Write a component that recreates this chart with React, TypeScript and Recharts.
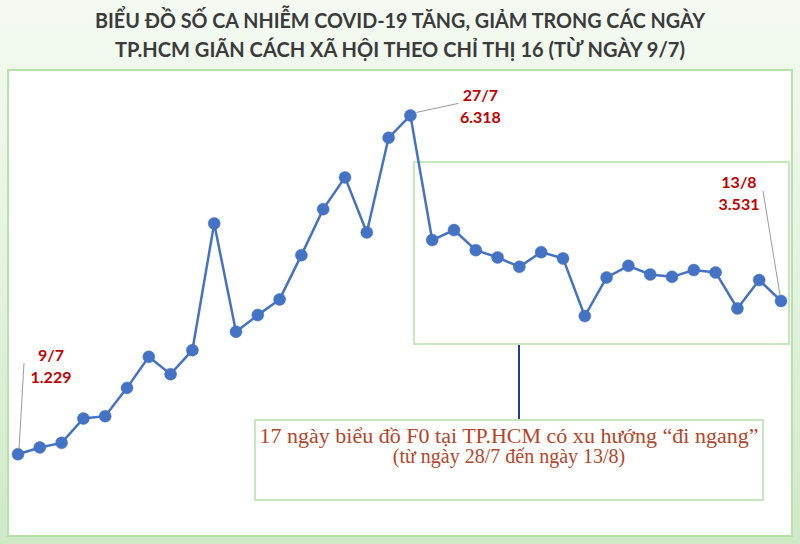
import React from 'react';
import { LineChart, Line, XAxis, YAxis, LabelList, Customized } from 'recharts';

// Ngày (từ 9/7 đến 13/8)
const dates: string[] = [
  '9/7', '10/7', '11/7', '12/7', '13/7', '14/7', '15/7', '16/7', '17/7', '18/7',
  '19/7', '20/7', '21/7', '22/7', '23/7', '24/7', '25/7', '26/7', '27/7', '28/7',
  '29/7', '30/7', '31/7', '1/8', '2/8', '3/8', '4/8', '5/8', '6/8', '7/8',
  '8/8', '9/8', '10/8', '11/8', '12/8', '13/8',
];

// Số ca nhiễm mới mỗi ngày tại TP.HCM
const cases: number[] = [
  1229, 1330, 1399, 1765, 1800, 2225, 2691, 2431, 2792, 4695,
  3067, 3318, 3554, 4219, 4910, 5387, 4560, 5982, 6318, 4445,
  4595, 4294, 4185, 4043, 4264, 4170, 3303, 3884, 4058, 3929,
  3893, 3994, 3959, 3418, 3844, 3531,
];

const titleLines: string[] = [
  'BIỂU ĐỒ SỐ CA NHIỄM COVID-19 TĂNG, GIẢM TRONG CÁC NGÀY',
  'TP.HCM GIÃN CÁCH XÃ HỘI THEO CHỈ THỊ 16 (TỪ NGÀY 9/7)',
];

const noteLines: string[] = [
  '17 ngày biểu đồ F0 tại TP.HCM có xu hướng “đi ngang”',
  '(từ ngày 28/7 đến ngày 13/8)',
];

const data = dates.map((date, i) => ({ date, cases: cases[i] }));

const LINE_BLUE = '#4472c4';
const LABEL_RED = '#c00000';
const FRAME_GREEN = '#b7e2ab';
const BOX_GREEN = '#c6e8bc';

const formatVN = (n: number) => String(n).replace(/\B(?=(\d{3})+(?!\d))/g, '.');

// Callout layout for the highlighted days: leader-line end and text anchor,
// relative to the data point.
const callouts: Record<number, { lx0: number; ly0: number; lx1: number; ly1: number; tx: number; ty: number }> = {
  0: { lx0: 1, ly0: -5, lx1: 6, ly1: -91, tx: 33, ty: -99 },
  18: { lx0: 6, ly0: -3, lx1: 48, ly1: -12, tx: 70, ty: -20 },
  35: { lx0: -1, ly0: -6, lx1: -18, ly1: -110, tx: -42, ty: -119 },
};

const renderCallout = (props: any) => {
  const { x, y, index, value } = props;
  const c = callouts[index];
  if (!c) return null;
  const textStyle = {
    fontFamily: 'Lato, "Open Sans", sans-serif',
    fontWeight: 700,
    fontSize: 16,
    fill: LABEL_RED,
  } as const;
  return (
    <g key={`callout-${index}`}>
      <line
        x1={x + c.lx0}
        y1={y + c.ly0}
        x2={x + c.lx1}
        y2={y + c.ly1}
        stroke="#9a9a9a"
        strokeWidth={1}
      />
      <text x={x + c.tx} y={y + c.ty + 6} textAnchor="middle" {...textStyle}>
        {dates[index]}
      </text>
      <text x={x + c.tx} y={y + c.ty + 28} textAnchor="middle" {...textStyle}>
        {formatVN(value)}
      </text>
    </g>
  );
};

const Decorations = () => (
  <g>
    {/* Tiêu đề */}
    <text
      x={400}
      y={28}
      textAnchor="middle"
      textLength={610}
      lengthAdjust="spacingAndGlyphs"
      style={{ fontFamily: 'Lato, sans-serif', fontWeight: 700, fontSize: 21, fill: '#3b3b3b' }}
    >
      {titleLines[0]}
    </text>
    <text
      x={400}
      y={57}
      textAnchor="middle"
      textLength={570}
      lengthAdjust="spacingAndGlyphs"
      style={{ fontFamily: 'Lato, sans-serif', fontWeight: 700, fontSize: 21, fill: '#3b3b3b' }}
    >
      {titleLines[1]}
    </text>

    {/* Khung giai đoạn "đi ngang" */}
    <rect x={414} y={162} width={375} height={182} fill="none" stroke={BOX_GREEN} strokeWidth={2} />
    <line x1={519} y1={345} x2={519} y2={420} stroke="#1f3c98" strokeWidth={2} />

    {/* Ghi chú */}
    <rect x={255} y={420} width={508} height={80} fill="#ffffff" stroke={BOX_GREEN} strokeWidth={2} />
    <text
      x={509}
      y={443}
      textAnchor="middle"
      textLength={499}
      lengthAdjust="spacingAndGlyphs"
      style={{ fontFamily: '"Liberation Serif", "DejaVu Serif", serif', fontSize: 20, fill: '#b5452b' }}
    >
      {noteLines[0]}
    </text>
    <text
      x={509}
      y={463}
      textAnchor="middle"
      style={{ fontFamily: '"Liberation Serif", "DejaVu Serif", serif', fontSize: 20, fill: '#b5452b' }}
    >
      {noteLines[1]}
    </text>
  </g>
);

export default function App() {
  return (
    <div
      style={{
        position: 'fixed',
        left: 0,
        top: 0,
        width: 800,
        height: 544,
        overflow: 'hidden',
        background: 'linear-gradient(180deg, #f4faf2 0%, #e6f4e2 45%, #cfe9c7 100%)',
      }}
    >
      <div
        style={{
          position: 'absolute',
          left: 7,
          top: 69,
          width: 786,
          height: 468,
          boxSizing: 'border-box',
          background: '#ffffff',
          border: `2px solid ${FRAME_GREEN}`,
        }}
      />
      <div style={{ position: 'absolute', left: 0, top: 0 }}>
        <LineChart
          width={800}
          height={544}
          data={data}
          margin={{ top: 70, right: 19, bottom: 8, left: 18 }}
        >
          <XAxis dataKey="date" hide />
          <YAxis domain={[0, 7000]} hide />
          <Customized component={<Decorations />} />
          <Line
            type="linear"
            dataKey="cases"
            stroke={LINE_BLUE}
            strokeWidth={2.5}
            dot={{ r: 6, fill: LINE_BLUE, stroke: LINE_BLUE, strokeWidth: 0.5 }}
            activeDot={false}
            isAnimationActive={false}
          >
            <LabelList dataKey="cases" content={renderCallout} />
          </Line>
        </LineChart>
      </div>
    </div>
  );
}
